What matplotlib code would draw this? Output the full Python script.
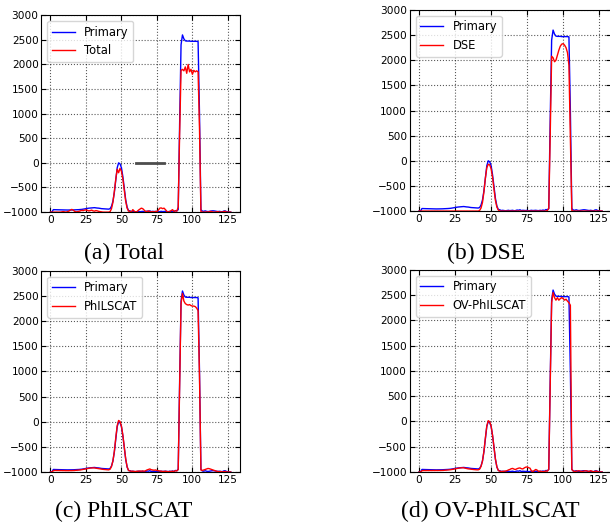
import numpy as np
import matplotlib
matplotlib.use("Agg")
import matplotlib.pyplot as plt

# sample index along the profile (0..127)
x = np.arange(128)

# primary signal (same in every panel)
primary = [
    -1000, -1000, -950, -950, -952, -953, -955, -955, -956, -957,
    -957, -958, -958, -958, -958, -957, -956, -955, -955, -953,
    -950, -948, -945, -940, -935, -930, -925, -920, -918, -915,
    -912, -910, -915, -918, -920, -925, -930, -932, -935, -935,
    -937, -940, -930, -880, -780, -600, -340, -100, 0, -20,
    -100, -280, -520, -750, -900, -970, -975, -990, -985, -990,
    -995, -990, -985, -992, -988, -985, -995, -990, -980, -985,
    -975, -990, -985, -988, -990, -985, -995, -990, -985, -990,
    -988, -985, -990, -992, -985, -990, -980, -990, -970, -975,
    -950, 800, 2400, 2600, 2520, 2480, 2475, 2475, 2475, 2470,
    2470, 2470, 2470, 2470, 2465, 1000, -950, -980, -985, -975,
    -985, -990, -985, -980, -975, -975, -980, -985, -990, -985,
    -990, -995, -980, -975, -990, -995, -1000, -1000,
]

total = [
    -1000, -1000, -1000, -1000, -1000, -1000, -1000, -1000, -995, -990,
    -995, -1000, -990, -980, -960, -945, -960, -985, -995, -990,
    -985, -975, -965, -970, -960, -955, -965, -975, -970, -960,
    -975, -980, -970, -975, -985, -990, -995, -1000, -1000, -1000,
    -1000, -1000, -990, -930, -800, -580, -330, -130, -200, -110,
    -170, -330, -560, -780, -920, -980, -985, -1000, -950, -980,
    -1000, -990, -960, -940, -920, -930, -960, -985, -990, -975,
    -990, -995, -990, -1000, -985, -990, -960, -920, -915, -930,
    -920, -950, -985, -1000, -990, -970, -950, -985, -975, -980,
    -900, 600, 1880, 1900, 1870, 1950, 1820, 2000, 1850, 1900,
    1800, 1880, 1850, 1870, 1850, 700, -990, -1000, -1000, -1000,
    -995, -1000, -990, -985, -995, -1000, -1000, -995, -990, -1000,
    -995, -1000, -990, -985, -1000, -1000, -1000, -1000,
]

dse = [
    -1000, -1000, -1000, -1000, -1000, -1000, -1000, -1000, -1000, -1000,
    -1000, -1000, -1000, -1000, -1000, -1000, -1000, -1000, -1000, -1000,
    -1000, -1000, -1000, -1000, -1000, -1000, -1000, -1000, -1000, -1000,
    -1000, -1000, -1000, -1000, -1000, -1000, -1000, -1000, -1000, -1000,
    -1000, -1000, -990, -940, -830, -620, -350, -140, -70, -80,
    -160, -330, -570, -790, -920, -980, -1000, -1000, -1000, -1000,
    -1000, -1000, -1000, -1000, -1000, -1000, -1000, -1000, -1000, -1000,
    -1000, -1000, -1000, -1000, -1000, -1000, -1000, -1000, -1000, -1000,
    -1000, -1000, -1000, -1000, -1000, -1000, -1000, -1000, -1000, -990,
    -950, 500, 2080, 2050, 1970, 2000, 2100, 2200, 2280, 2320,
    2330, 2300, 2250, 2150, 1900, 400, -990, -1000, -1000, -1000,
    -1000, -1000, -1000, -1000, -1000, -1000, -1000, -1000, -1000, -1000,
    -1000, -1000, -1000, -1000, -1000, -1000, -1000, -1000,
]

philscat = [
    -1000, -1000, -975, -970, -970, -970, -972, -972, -972, -973,
    -973, -974, -974, -974, -974, -973, -972, -970, -968, -965,
    -962, -960, -955, -950, -945, -938, -932, -926, -922, -920,
    -918, -920, -925, -930, -935, -940, -945, -948, -950, -952,
    -955, -958, -945, -890, -780, -590, -320, -80, 25, 5,
    -90, -270, -510, -740, -900, -970, -980, -985, -985, -990,
    -990, -985, -985, -980, -985, -980, -985, -975, -960, -950,
    -940, -955, -960, -965, -960, -970, -975, -980, -985, -990,
    -990, -985, -990, -995, -990, -990, -985, -990, -975, -980,
    -950, 700, 2350, 2550, 2400, 2350, 2330, 2320, 2330, 2310,
    2300, 2300, 2290, 2260, 2210, 900, -960, -970, -960, -950,
    -940, -930, -935, -945, -955, -965, -975, -985, -990, -995,
    -990, -1000, -995, -990, -1000, -1000, -1000, -1000,
]

ov_philscat = [
    -1000, -1000, -975, -972, -972, -972, -973, -973, -973, -974,
    -974, -974, -974, -974, -973, -972, -970, -968, -965, -962,
    -960, -958, -955, -950, -945, -938, -932, -926, -922, -918,
    -916, -918, -925, -932, -938, -942, -946, -950, -952, -955,
    -957, -958, -945, -890, -785, -595, -330, -90, 15, -5,
    -95, -275, -515, -745, -900, -970, -985, -990, -990, -985,
    -980, -975, -960, -950, -935, -930, -945, -950, -935, -925,
    -920, -935, -940, -920, -905, -900, -915, -925, -980, -990,
    -970, -950, -965, -990, -985, -990, -995, -990, -980, -985,
    -950, 700, 2350, 2550, 2450, 2400, 2450, 2400, 2430, 2450,
    2430, 2400, 2420, 2380, 2350, 2300, -950, -980, -990, -985,
    -980, -975, -985, -990, -985, -980, -975, -985, -990, -975,
    -985, -995, -990, -980, -995, -1000, -1000, -1000,
]

# short dark segment drawn in the "Total" panel
seg_x = [60, 80]
seg_y = [0, 0]

labels = ["Total", "DSE", "PhILSCAT", "OV-PhILSCAT"]
captions = ["(a) Total", "(b) DSE", "(c) PhILSCAT", "(d) OV-PhILSCAT"]
series = [total, dse, philscat, ov_philscat]

xticks = [0, 25, 50, 75, 100, 125]
yticks = [-1000, -500, 0, 500, 1000, 1500, 2000, 2500, 3000]

fig = plt.figure(figsize=(6.1, 5.25), dpi=100)

# axes boxes in figure fraction (left, bottom, width, height)
boxes = [
    [0.068, 0.596, 0.325, 0.375],
    [0.672, 0.598, 0.330, 0.383],
    [0.068, 0.101, 0.325, 0.383],
    [0.672, 0.101, 0.330, 0.385],
]
cap_pos = [(0.203, 0.518), (0.797, 0.518), (0.203, 0.025), (0.803, 0.025)]

for i in range(4):
    ax = fig.add_axes(boxes[i])
    ax.plot(x, primary, color="b", lw=1.0, label="Primary")
    ax.plot(x, series[i], color="r", lw=1.0, label=labels[i])
    if i == 0:
        ax.plot(seg_x, seg_y, color="0.3", lw=2.0)
    ax.set_ylim(-1000, 3000)
    ax.set_xticks(xticks)
    ax.set_yticks(yticks)
    ax.grid(True, linestyle=":", color="k", lw=0.8, alpha=0.65)
    ax.tick_params(direction="in", top=True, right=True, labelsize=7.6, pad=2)
    ax.legend(loc="upper left", fontsize=8.3, borderaxespad=0.5)
    fig.text(cap_pos[i][0], cap_pos[i][1], captions[i], ha="center", va="center",
             family="Liberation Serif", fontsize=17)

fig.savefig("out.png", dpi=100)
